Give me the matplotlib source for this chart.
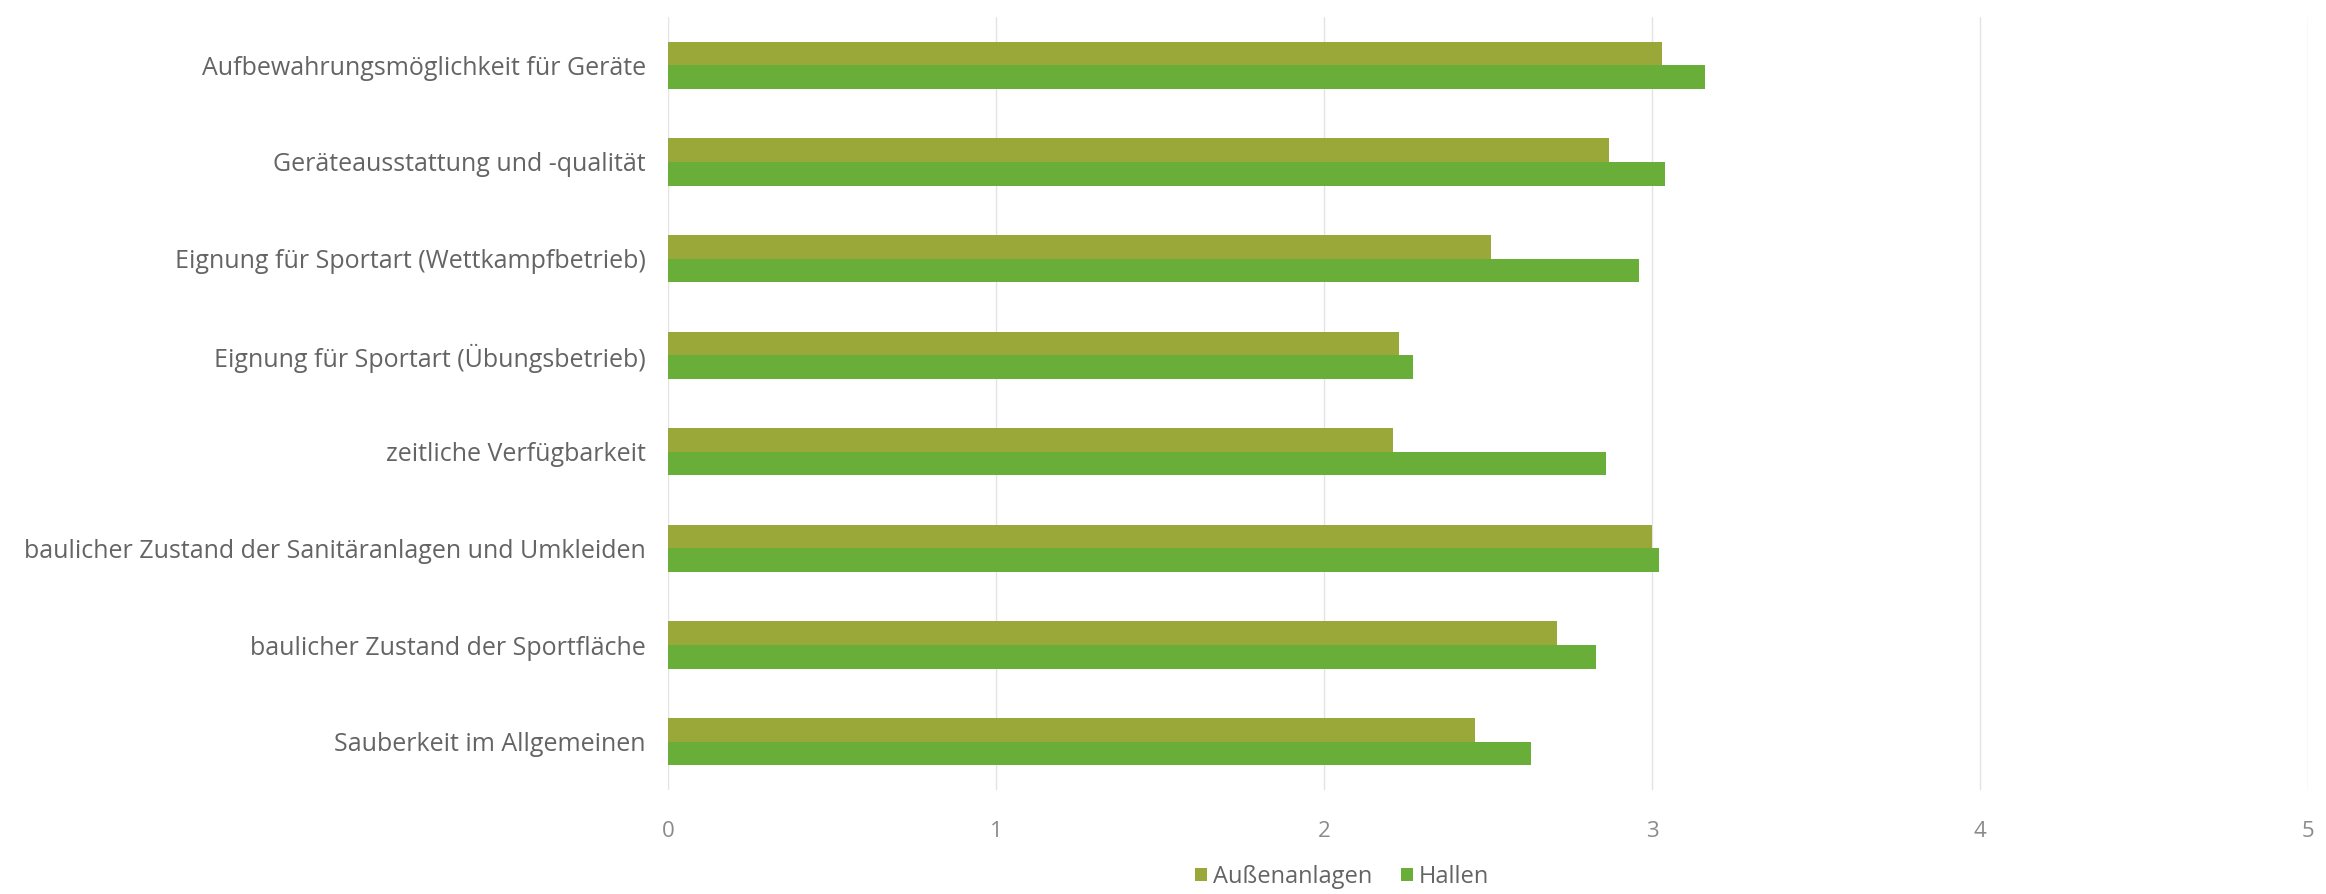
import numpy as np
import matplotlib
matplotlib.use("Agg")
import matplotlib.pyplot as plt

# categories from top to bottom as in the chart
categories = [
    "Aufbewahrungsmöglichkeit für Geräte",
    "Geräteausstattung und -qualität",
    "Eignung für Sportart (Wettkampfbetrieb)",
    "Eignung für Sportart (Übungsbetrieb)",
    "zeitliche Verfügbarkeit",
    "baulicher Zustand der Sanitäranlagen und Umkleiden",
    "baulicher Zustand der Sportfläche",
    "Sauberkeit im Allgemeinen",
]
aussen = [3.03, 2.87, 2.51, 2.23, 2.21, 3.00, 2.71, 2.46]
hallen = [3.16, 3.04, 2.96, 2.27, 2.86, 3.02, 2.83, 2.63]
x_ticks = [0, 1, 2, 3, 4, 5]

plt.rcParams['font.family'] = ['Open Sans', 'DejaVu Sans']

fig = plt.figure(figsize=(23.26, 8.94), dpi=100)
ax = fig.add_axes([0.2872, 0.1163, 0.7051, 0.8647])

y = np.arange(len(categories))
h = 0.245
ax.barh(y - h/2, aussen, height=h, color="#9aa83a", label="Außenanlagen", zorder=3)
ax.barh(y + h/2, hallen, height=h, color="#6aae3a", label="Hallen", zorder=3)

ax.set_ylim(len(categories) - 0.5, -0.5)
ax.set_xlim(0, 5)
ax.set_yticks(y)
ax.set_yticklabels(categories, fontsize=18, color="#646464")
ax.set_xticks(x_ticks)
ax.set_xticklabels([str(t) for t in x_ticks], fontsize=16, color="#8a8a8a")
ax.tick_params(axis='both', length=0)
ax.tick_params(axis='y', pad=16)
ax.tick_params(axis='x', pad=22)

for s in ax.spines.values():
    s.set_visible(False)
ax.grid(axis='x', color="#e4e4e4", linewidth=1.0, zorder=0)

fig.legend(loc='center', bbox_to_anchor=(0.577, 0.019), ncol=2, frameon=False,
           fontsize=17, labelcolor="#646464", handlelength=0.5, handleheight=0.5,
           handletextpad=0.25, columnspacing=1.2)

fig.savefig("out.png", dpi=100)
